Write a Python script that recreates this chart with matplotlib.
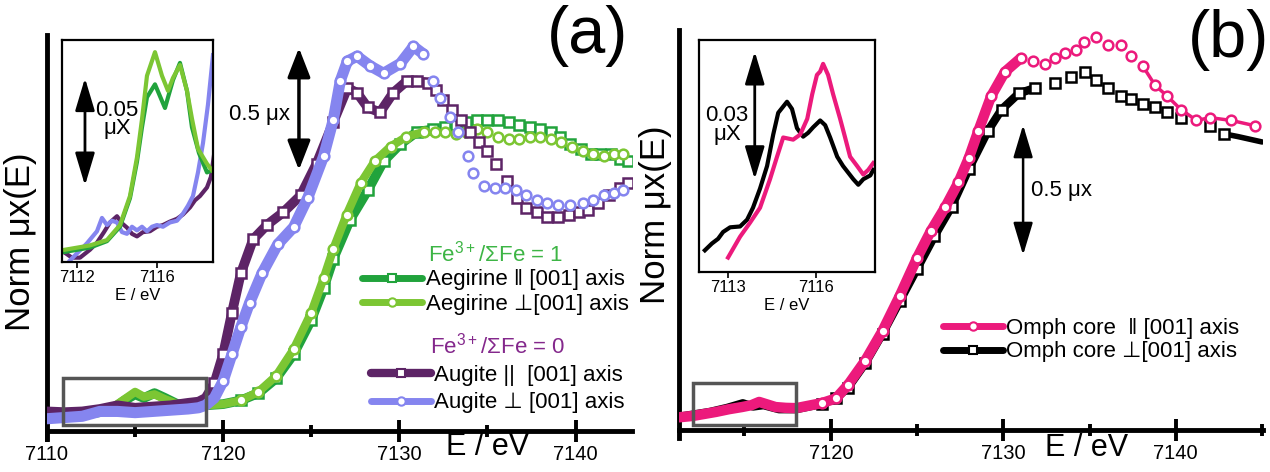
import numpy as np
import matplotlib
matplotlib.use('Agg')
import matplotlib.pyplot as plt
from matplotlib.lines import Line2D
from matplotlib.patches import Rectangle

plt.rcParams['font.family'] = ['Liberation Sans', 'DejaVu Sans']
plt.rcParams['mathtext.fontset'] = 'custom'
plt.rcParams['mathtext.rm'] = 'Liberation Sans'

# ---------------- panel (a): Fe K-edge, augite / aegirine  (E [eV], norm mu) ----------------
aug_par = np.array([
    (7110.0, 0.015), (7111.0, 0.012), (7112.0, 0.015), (7113.0, 0.025), (7114.0, 0.04),
    (7115.0, 0.03), (7116.0, 0.035), (7117.0, 0.04), (7118.0, 0.05), (7118.6, 0.055),
    (7119.0, 0.07), (7119.5, 0.13), (7120.0, 0.25), (7120.5, 0.42), (7121.0, 0.58),
    (7121.7, 0.72), (7122.5, 0.78), (7123.4, 0.83), (7124.4, 0.90), (7125.3, 1.03),
    (7126.25, 1.20), (7127.05, 1.34), (7127.6, 1.32), (7128.2, 1.26), (7128.9, 1.24),
    (7129.65, 1.32), (7130.45, 1.37), (7131.0, 1.37), (7131.6, 1.36), (7132.1, 1.33),
    (7132.5, 1.29), (7133.0, 1.25), (7133.5, 1.21), (7134.0, 1.16), (7134.5, 1.12),
    (7135.0, 1.08), (7135.5, 1.03), (7136.1, 0.96), (7136.7, 0.89), (7137.2, 0.85),
    (7137.8, 0.83), (7138.4, 0.81), (7139.0, 0.81), (7139.6, 0.82), (7140.2, 0.83),
    (7140.7, 0.84), (7141.3, 0.87), (7141.9, 0.90), (7142.5, 0.93), (7143.0, 0.95)])

aug_perp = np.array([
    (7110.0, -0.015), (7111.0, -0.01), (7112.0, -0.005), (7113.0, 0.015), (7114.0, 0.015),
    (7115.0, 0.01), (7116.0, 0.015), (7117.0, 0.02), (7118.0, 0.025), (7118.6, 0.03),
    (7119.0, 0.04), (7119.5, 0.07), (7120.0, 0.14), (7120.5, 0.25), (7121.0, 0.36),
    (7121.5, 0.46), (7122.2, 0.58), (7123.1, 0.70), (7124.0, 0.77), (7124.8, 0.89),
    (7125.7, 1.06), (7126.25, 1.21), (7126.65, 1.37), (7127.05, 1.45), (7127.6, 1.47),
    (7128.35, 1.43), (7129.1, 1.40), (7130.05, 1.44), (7130.8, 1.51), (7131.35, 1.48),
    (7131.9, 1.37), (7132.3, 1.30), (7132.9, 1.22), (7133.3, 1.16), (7133.9, 1.06),
    (7134.2, 0.99), (7134.8, 0.94), (7135.4, 0.93), (7136.0, 0.93), (7136.6, 0.92),
    (7137.2, 0.90), (7137.8, 0.88), (7138.4, 0.87), (7139.0, 0.86), (7139.7, 0.86),
    (7140.45, 0.87), (7141.0, 0.88), (7141.6, 0.90), (7142.2, 0.91), (7142.7, 0.92)])

aeg_par = np.array([
    (7110.0, -0.01), (7111.0, -0.005), (7112.0, 0.0), (7113.0, 0.012), (7113.8, 0.03),
    (7114.4, 0.06), (7115.0, 0.085), (7115.5, 0.07), (7116.1, 0.09), (7116.7, 0.07),
    (7117.4, 0.045), (7118.2, 0.04), (7119.0, 0.04), (7120.0, 0.045), (7121.0, 0.06),
    (7122.0, 0.09), (7123.0, 0.15), (7124.0, 0.25), (7125.0, 0.39), (7125.7, 0.52),
    (7126.25, 0.64), (7127.2, 0.80), (7128.2, 0.92), (7129.1, 1.04), (7130.05, 1.11),
    (7131.0, 1.16), (7131.9, 1.17), (7132.6, 1.18), (7133.2, 1.19), (7133.8, 1.20),
    (7134.4, 1.21), (7135.0, 1.21), (7135.6, 1.21), (7136.2, 1.20), (7136.8, 1.19),
    (7137.4, 1.18), (7138.0, 1.17), (7138.6, 1.16), (7139.1, 1.14), (7139.7, 1.11),
    (7140.3, 1.09), (7140.85, 1.07), (7141.4, 1.07), (7142.0, 1.07), (7142.5, 1.05),
    (7143.0, 1.04)])

aeg_perp = np.array([
    (7110.0, -0.01), (7111.0, -0.005), (7112.0, 0.002), (7113.0, 0.015), (7113.8, 0.035),
    (7114.4, 0.065), (7115.0, 0.095), (7115.5, 0.075), (7116.1, 0.085), (7116.7, 0.065),
    (7117.4, 0.045), (7118.2, 0.04), (7119.0, 0.04), (7120.0, 0.045), (7121.0, 0.06),
    (7122.0, 0.095), (7123.0, 0.16), (7124.0, 0.27), (7125.0, 0.42), (7125.7, 0.56),
    (7126.25, 0.68), (7127.0, 0.82), (7127.8, 0.95), (7128.6, 1.04), (7129.5, 1.10),
    (7130.4, 1.14), (7131.4, 1.16), (7132.0, 1.16), (7132.6, 1.16), (7133.2, 1.15),
    (7133.8, 1.16), (7134.4, 1.17), (7135.0, 1.16), (7135.6, 1.14), (7136.2, 1.13),
    (7136.8, 1.13), (7137.4, 1.14), (7138.0, 1.14), (7138.6, 1.13), (7139.2, 1.12),
    (7139.8, 1.10), (7140.4, 1.08), (7141.0, 1.07), (7141.6, 1.06), (7142.2, 1.07),
    (7142.7, 1.07)])

# inset (a): pre-edge region
ins_a_aeg_perp = np.array([
    (7111.4, 0.009), (7112.65, 0.011), (7113.5, 0.0135), (7114.15, 0.0205), (7114.65, 0.034),
    (7115.0, 0.052), (7115.25, 0.0697), (7115.5, 0.090), (7115.9, 0.101), (7116.25, 0.090),
    (7116.55, 0.083), (7116.8, 0.089), (7117.15, 0.095), (7117.5, 0.083), (7117.75, 0.070),
    (7118.05, 0.056), (7118.5, 0.049), (7118.75, 0.046)])
ins_a_aeg_par = np.array([
    (7111.4, 0.008), (7112.65, 0.010), (7113.5, 0.013), (7114.15, 0.0197), (7114.65, 0.033),
    (7115.0, 0.050), (7115.25, 0.066), (7115.5, 0.080), (7115.9, 0.086), (7116.4, 0.075),
    (7116.8, 0.088), (7117.15, 0.096), (7117.5, 0.083), (7117.75, 0.066), (7118.1, 0.054),
    (7118.5, 0.045), (7118.75, 0.046)])
ins_a_aug_perp = np.array([
    (7111.65, 0.004), (7112.5, 0.012), (7113.0, 0.0176), (7113.25, 0.0238), (7113.5, 0.0205),
    (7113.75, 0.0225), (7114.0, 0.0217), (7114.25, 0.0172), (7114.5, 0.0164), (7114.75, 0.0197),
    (7115.0, 0.018), (7115.25, 0.0197), (7115.5, 0.0176), (7115.75, 0.0197), (7116.0, 0.0205),
    (7116.3, 0.0197), (7116.65, 0.0217), (7117.0, 0.0225), (7117.3, 0.0258), (7117.55, 0.0295),
    (7117.8, 0.034), (7118.05, 0.045), (7118.3, 0.0586), (7118.55, 0.0766), (7118.8, 0.0996)])
ins_a_aug_par = np.array([
    (7111.3, 0.0082), (7111.75, 0.0053), (7112.15, 0.0053), (7112.65, 0.009), (7113.0, 0.0123),
    (7113.35, 0.0172), (7113.65, 0.0217), (7114.0, 0.0246), (7114.25, 0.0213), (7114.5, 0.0193),
    (7114.75, 0.0164), (7115.0, 0.0152), (7115.3, 0.0172), (7115.65, 0.0176), (7116.0, 0.0197),
    (7116.3, 0.0205), (7116.65, 0.0221), (7117.0, 0.0234), (7117.3, 0.0254), (7117.65, 0.0287),
    (7117.9, 0.032), (7118.15, 0.034), (7118.5, 0.038), (7118.7, 0.043), (7118.85, 0.053)])

# ---------------- panel (b): omphacite core ----------------
omph_par = np.array([
    (7111.2, 0.01), (7112.0, 0.015), (7113.35, 0.03), (7114.1, 0.04), (7114.85, 0.048),
    (7115.4, 0.055), (7115.85, 0.067), (7116.3, 0.058), (7116.8, 0.048), (7117.4, 0.045),
    (7118.0, 0.044), (7119.5, 0.063), (7120.3, 0.08), (7121.0, 0.13), (7122.0, 0.22),
    (7123.0, 0.33), (7124.0, 0.46), (7125.0, 0.60), (7125.8, 0.70), (7126.65, 0.79),
    (7127.4, 0.88), (7128.0, 0.97), (7128.55, 1.07), (7129.3, 1.20), (7130.1, 1.29),
    (7131.0, 1.34), (7131.7, 1.33), (7132.4, 1.32), (7133.0, 1.34), (7133.6, 1.36),
    (7134.2, 1.37), (7134.7, 1.40), (7135.4, 1.42), (7136.1, 1.39), (7136.8, 1.39),
    (7137.4, 1.35), (7138.1, 1.31), (7138.8, 1.24), (7139.5, 1.20), (7140.3, 1.15),
    (7141.2, 1.11), (7142.0, 1.12), (7143.2, 1.11), (7144.6, 1.09)])

omph_perp = np.array([
    (7111.2, 0.012), (7112.0, 0.02), (7113.0, 0.03), (7114.0, 0.045), (7114.9, 0.062),
    (7115.5, 0.05), (7116.1, 0.055), (7117.0, 0.04), (7118.0, 0.04), (7119.5, 0.06),
    (7120.3, 0.08), (7121.0, 0.12), (7122.0, 0.21), (7123.0, 0.32), (7124.0, 0.44),
    (7125.0, 0.56), (7126.0, 0.68), (7127.0, 0.79), (7128.0, 0.93), (7129.1, 1.07),
    (7129.9, 1.15), (7130.9, 1.21), (7131.85, 1.23), (7133.0, 1.25), (7133.9, 1.27),
    (7134.75, 1.29), (7135.4, 1.26), (7136.1, 1.23), (7136.8, 1.20), (7137.4, 1.19),
    (7138.1, 1.17), (7138.8, 1.16), (7139.5, 1.14), (7140.3, 1.12), (7142.0, 1.09),
    (7142.8, 1.06), (7143.6, 1.05), (7145.0, 1.03)])

# inset (b)
ins_b_perp = np.array([
    (7112.2, 0.0084), (7112.44, 0.0100), (7112.65, 0.0111), (7112.82, 0.0127), (7113.06, 0.0138),
    (7113.4, 0.0140), (7113.64, 0.0156), (7113.84, 0.0184), (7114.08, 0.0229), (7114.32, 0.0282),
    (7114.53, 0.0356), (7114.7, 0.0407), (7115.0, 0.0433), (7115.17, 0.0416), (7115.34, 0.0371),
    (7115.55, 0.0351), (7115.72, 0.036), (7115.89, 0.0373), (7116.13, 0.0389), (7116.3, 0.0378),
    (7116.47, 0.0349), (7116.71, 0.0304), (7116.91, 0.0282), (7117.26, 0.0251), (7117.43, 0.0238),
    (7117.6, 0.0251), (7117.84, 0.026), (7117.94, 0.0273)])
ins_b_par = np.array([
    (7112.99, 0.0067), (7113.4, 0.0116), (7113.74, 0.0149), (7114.08, 0.0184), (7114.42, 0.0251),
    (7114.66, 0.0304), (7114.87, 0.0349), (7115.21, 0.0344), (7115.45, 0.0356), (7115.69, 0.0393),
    (7115.86, 0.0451), (7116.02, 0.0496), (7116.13, 0.0504), (7116.23, 0.0522), (7116.4, 0.0496),
    (7116.57, 0.0451), (7116.81, 0.0393), (7116.98, 0.0349), (7117.15, 0.0304), (7117.39, 0.0282),
    (7117.6, 0.0262), (7117.77, 0.0273), (7117.94, 0.0289)])

c_aug_par = '#5d2466'
c_aug_perp = '#8585ef'
c_aeg_par = '#21a33c'
c_aeg_perp = '#7cc633'
c_omph_par = '#ec1a7c'
c_omph_perp = '#000000'
c_fe1 = '#3db545'
c_fe0 = '#84288c'
c_box = '#555555'


def draw_series(ax, data, color, marker, band_end, band_lw, mark_start,
                tail_start=None, tail_lw=3, mark_end=None, ms=7, z=2):
    e, mu = data[:, 0], data[:, 1]
    band = e <= band_end
    ax.plot(e[band], mu[band], color=color, lw=band_lw, solid_capstyle='round', zorder=z)
    if tail_start is not None:
        t = e >= tail_start
        ax.plot(e[t], mu[t], color=color, lw=tail_lw, solid_capstyle='round', zorder=z)
    m = e >= mark_start
    if mark_end is not None:
        m &= e <= mark_end
    ax.plot(e[m], mu[m], ls='none', marker=marker, ms=ms, mfc='white', mec=color,
            mew=1.8, zorder=z + 0.5)


def style_main(ax, xlim, ylim, xaxis_y, major, minor):
    ax.set_xlim(xlim)
    ax.set_ylim(ylim)
    ax.patch.set_alpha(0)
    for s in ['top', 'right']:
        ax.spines[s].set_visible(False)
    for s in ['left', 'bottom']:
        ax.spines[s].set_linewidth(3.5)
    ax.spines['bottom'].set_position(('data', xaxis_y))
    ax.set_yticks([])
    ax.set_xticks(major)
    ax.set_xticks(minor, minor=True)
    ax.tick_params(axis='x', which='major', direction='inout', length=16, width=2.8,
                   labelsize=14.5, pad=2)
    ax.tick_params(axis='x', which='minor', direction='inout', length=8, width=2.8)


def style_inset(ax, xlim, ylim, ticks):
    ax.set_xlim(xlim)
    ax.set_ylim(ylim)
    for s in ax.spines.values():
        s.set_linewidth(1.6)
    ax.set_yticks([])
    ax.set_xticks(ticks)
    ax.tick_params(axis='x', direction='out', length=4, width=1.2, labelsize=12, pad=2)
    ax.set_xlabel('E / eV', fontsize=12, labelpad=2)


def double_arrow(ax, x, y0, y1, lw=2.5, hl=0.9, hw=0.35):
    ax.annotate('', xy=(x, y1), xytext=(x, y0),
                arrowprops=dict(arrowstyle='<|-|>,head_length=%g,head_width=%g' % (hl, hw),
                                lw=lw, color='black', mutation_scale=20,
                                shrinkA=0, shrinkB=0), zorder=6)


def legend_handle(color, marker, lw=5):
    return Line2D([], [], color=color, lw=lw, marker=marker, ms=6, mfc='white', mec=color,
                  mew=1.5, solid_capstyle='round')


fig = plt.figure(figsize=(12.7, 4.72), dpi=100)

# ---------------- panel (a) ----------------
ax_a = fig.add_axes([0.0370, 0.0699, 0.4606, 0.856])
style_main(ax_a, (7110, 7143.2), (-0.098, 1.557), -0.0656,
           [7110, 7120, 7130, 7140], [7115, 7125, 7135])

draw_series(ax_a, aeg_par, c_aeg_par, 's', 7132.0, 7, 7121.0, z=2)
draw_series(ax_a, aeg_perp, c_aeg_perp, 'o', 7131.4, 6, 7121.0, z=2.5)
draw_series(ax_a, aug_par, c_aug_par, 's', 7131.6, 7, 7119.5, z=3)
draw_series(ax_a, aug_perp, c_aug_perp, 'o', 7131.35, 8, 7120.0, z=3.5)

ax_a.add_patch(Rectangle((7110.9, -0.041), 8.1, 0.193, fill=False, ec=c_box, lw=2.5, zorder=7))
double_arrow(ax_a, 7124.3, 1.004, 1.504)
ax_a.text(7123.8, 1.23, '0.5 μx', fontsize=16, ha='right', va='center')
ax_a.text(7135.0, -0.068, 'E / eV', fontsize=22, ha='center', va='top')

leg_aeg = ax_a.legend(
    handles=[legend_handle(c_aeg_par, 's'), legend_handle(c_aeg_perp, 'o')],
    labels=['Aegirine ‖ [001] axis', 'Aegirine ⊥[001] axis'],
    title='Fe$^{3+}$/ΣFe = 1', loc='center', bbox_to_anchor=(0.390, 0.412),
    bbox_transform=fig.transFigure, frameon=False, fontsize=16, title_fontsize=16,
    handlelength=2.7, handletextpad=0.15, labelspacing=0.15, borderpad=0, numpoints=1)
leg_aeg.get_title().set_color(c_fe1)
ax_a.add_artist(leg_aeg)
leg_aug = ax_a.legend(
    handles=[legend_handle(c_aug_par, 's', 6), legend_handle(c_aug_perp, 'o')],
    labels=['Augite ||  [001] axis', 'Augite ⊥ [001] axis'],
    title='Fe$^{3+}$/ΣFe = 0', loc='center', bbox_to_anchor=(0.392, 0.210),
    bbox_transform=fig.transFigure, frameon=False, fontsize=16, title_fontsize=16,
    handlelength=2.7, handletextpad=0.15, labelspacing=0.3, borderpad=0, numpoints=1)
leg_aug.get_title().set_color(c_fe0)

fig.text(21 / 1270, 1 - 242 / 472, 'Norm μx(E)', rotation=90, fontsize=25, ha='center', va='center')
fig.text(588 / 1270, 1 - 36 / 472, '(a)', fontsize=48, ha='center', va='center')

# inset (a)
in_a = fig.add_axes([0.0488, 0.445, 0.1189, 0.470])
style_inset(in_a, (7111.25, 7118.8), (0.0033, 0.1066), [7112, 7116])
for data, col in [(ins_a_aug_par, c_aug_par), (ins_a_aug_perp, c_aug_perp),
                  (ins_a_aeg_par, c_aeg_par), (ins_a_aeg_perp, c_aeg_perp)]:
    in_a.plot(data[:, 0], data[:, 1], color=col, lw=3)
double_arrow(in_a, 7112.4, 0.0389, 0.0889, lw=2, hl=1.0, hw=0.3)
in_a.text(7114.0, 0.0697, '0.05\nμX', fontsize=16, ha='center', va='center', linespacing=0.85)

# ---------------- panel (b) ----------------
ax_b = fig.add_axes([0.5346, 0.072, 0.4598, 0.864])
style_main(ax_b, (7111.2, 7145.05), (-0.0667, 1.444), -0.037,
           [7120, 7130, 7140], [7115, 7125, 7135, 7145])

draw_series(ax_b, omph_perp, c_omph_perp, 's', 7131.85, 6, 7119.5,
            tail_start=7142.8, tail_lw=4, mark_end=7142.8, ms=6.5, z=2)
draw_series(ax_b, omph_par, c_omph_par, 'o', 7131.0, 7.5, 7119.5,
            tail_start=7138.0, tail_lw=2.5, z=3)

ax_b.add_patch(Rectangle((7112.0, -0.0185), 6.0, 0.1555, fill=False, ec=c_box, lw=2.5, zorder=7))
double_arrow(ax_b, 7131.15, 0.611, 1.093, lw=1.8, hl=1.0, hw=0.3)
ax_b.text(7131.6, 0.85, '0.5 μx', fontsize=16, ha='left', va='center')
ax_b.text(7134.8, -0.048, 'E / eV', fontsize=22, ha='center', va='top')

ax_b.legend(
    handles=[legend_handle(c_omph_par, 'o'), legend_handle(c_omph_perp, 's')],
    labels=['Omph core  ‖ [001] axis', 'Omph core ⊥[001] axis'],
    loc='center', bbox_to_anchor=(0.859, 0.279), bbox_transform=fig.transFigure,
    frameon=False, fontsize=16, handlelength=2.7, handletextpad=0.15, labelspacing=0.1,
    borderpad=0, numpoints=1)

fig.text(655 / 1270, 1 - 215 / 472, 'Norm μx(E)', rotation=90, fontsize=25, ha='center', va='center')
fig.text(1229 / 1270, 1 - 40 / 472, '(b)', fontsize=48, ha='center', va='center')

# inset (b)
in_b = fig.add_axes([0.5504, 0.4237, 0.1386, 0.4915])
style_inset(in_b, (7112.0, 7118.0), (0.0033, 0.0578), [7113, 7116])
in_b.plot(ins_b_perp[:, 0], ins_b_perp[:, 1], color=c_omph_perp, lw=3)
in_b.plot(ins_b_par[:, 0], ins_b_par[:, 1], color=c_omph_par, lw=3)
double_arrow(in_b, 7113.9, 0.0251, 0.0551, lw=2, hl=1.0, hw=0.3)
in_b.text(7112.96, 0.0378, '0.03\nμX', fontsize=16, ha='center', va='center', linespacing=0.85)

fig.savefig('out.png', dpi=100)
